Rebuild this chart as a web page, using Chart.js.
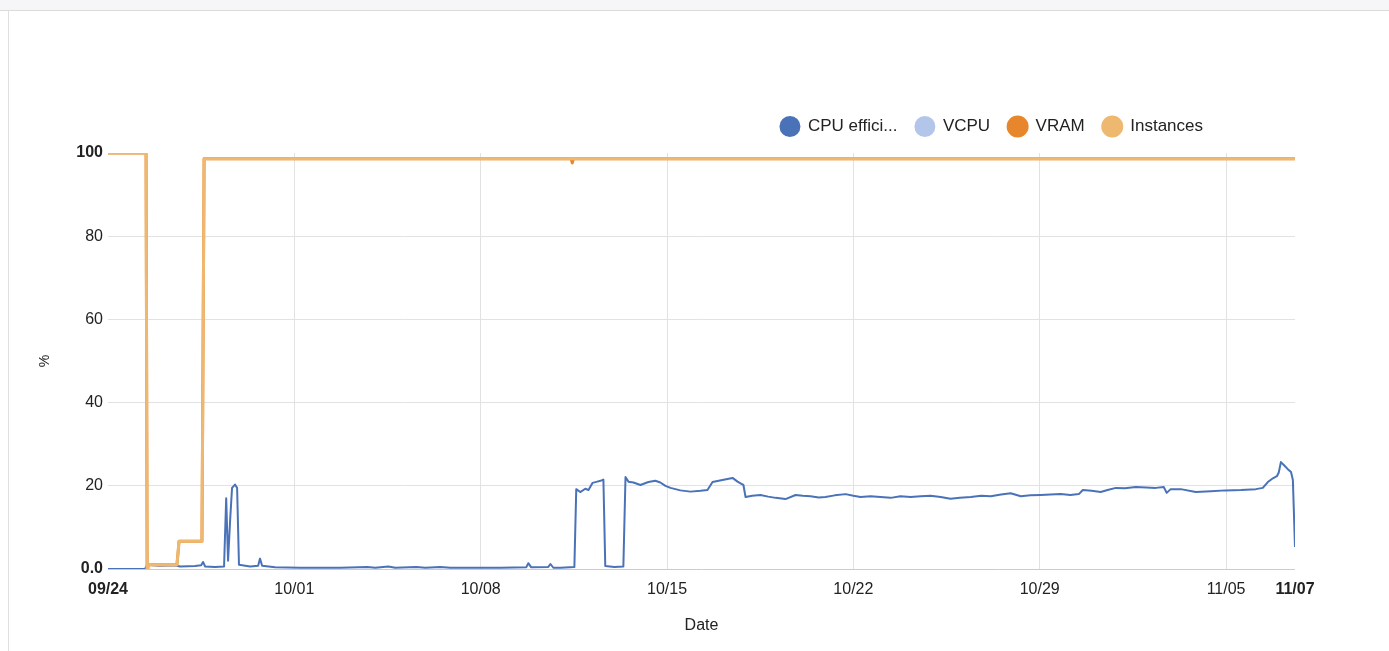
<!DOCTYPE html>
<html>
<head>
<meta charset="utf-8">
<script src="https://cdn.jsdelivr.net/npm/chart.js@4.4.1/dist/chart.umd.min.js"></script>
<style>
  html, body { margin: 0; padding: 0; background: #fff; }
  body { width: 1389px; height: 651px; position: relative; overflow: hidden; font-family: "Liberation Sans", Arial, sans-serif; }
  #topbar { position: absolute; left: 0; top: 0; width: 1389px; height: 10px; background: #f6f6f8; border-bottom: 1px solid #dcdcdc; }
  #panel { position: absolute; left: 8px; top: 11px; width: 1381px; height: 640px; border-left: 1px solid #e0e0e0; }
  #chart { position: absolute; left: 0; top: 0; }
</style>
</head>
<body>
<div id="topbar"></div>
<div id="panel"></div>
<canvas id="chart" width="1389" height="651"></canvas>
<script>
// x values are days since 09/24
const tickDays = [0, 7, 14, 21, 28, 35, 42, 44.59];
const tickLabels = ['09/24', '10/01', '10/08', '10/15', '10/22', '10/29', '11/05', '11/07'];
const yTickLabels = ['0.0', '20', '40', '60', '80', '100'];

const seriesNames = ['CPU effici...', 'VCPU', 'VRAM', 'Instances'];
const seriesColors = ['#4a72b8', '#b3c6ea', '#e8862c', '#efb870'];

// CPU efficiency
const cpuDays = [
  0, 1.39, 1.47, 1.95, 2.52, 2.71, 3.27, 3.50, 3.57, 3.65, 4.02, 4.36, 4.44, 4.51, 4.59, 4.66, 4.77, 4.85, 4.92,
  5.34, 5.64, 5.71, 5.79, 6.28, 7.22, 8.72, 9.74, 10.04, 10.53, 10.79, 11.58, 11.92, 12.48, 12.86, 14.74,
  15.71, 15.79, 15.90, 16.54, 16.62, 16.73, 17.0, 17.52, 17.59, 17.74, 17.93, 18.05, 18.20, 18.38, 18.50, 18.61,
  18.68, 19.02, 19.36, 19.44, 19.55, 19.74, 20.00, 20.30, 20.56, 20.75, 20.94, 21.13, 21.50, 21.88, 22.26,
  22.52, 22.71, 23.08, 23.46, 23.65, 23.76, 23.87, 23.95, 24.20, 24.51, 24.80, 25.08, 25.45, 25.83, 26.10,
  26.39, 26.70, 26.95, 27.30, 27.71, 28.00, 28.27, 28.65, 29.02, 29.40, 29.77, 30.15, 30.53, 30.90, 31.28,
  31.65, 32.00, 32.41, 32.80, 33.16, 33.55, 33.91, 34.29, 34.65, 35.04, 35.40, 35.79, 36.15, 36.47, 36.62,
  36.95, 37.29, 37.55, 37.86, 38.20, 38.61, 39.00, 39.36, 39.66, 39.77, 39.92, 40.30, 40.86, 41.43, 41.98,
  42.56, 43.12, 43.38, 43.57, 43.76, 43.91, 43.98, 44.06, 44.17, 44.32, 44.44, 44.51, 44.59
];
const cpuValues = [
  0, 0, 1.0, 0.8, 0.9, 0.6, 0.7, 0.9, 1.7, 0.6, 0.5, 0.6, 17, 2, 12, 19.5, 20.3, 19.5, 1.0,
  0.6, 0.8, 2.5, 0.8, 0.4, 0.3, 0.3, 0.5, 0.3, 0.6, 0.3, 0.5, 0.3, 0.5, 0.3, 0.3,
  0.4, 1.4, 0.4, 0.5, 1.2, 0.3, 0.3, 0.5, 19.2, 18.5, 19.3, 19.0, 20.7, 21.0, 21.2, 21.5,
  0.7, 0.5, 0.6, 22.1, 21.0, 20.8, 20.2, 20.9, 21.2, 20.8, 20.0, 19.5, 18.9, 18.6, 18.8,
  19.0, 20.9, 21.4, 21.9, 21.0, 20.6, 20.2, 17.3, 17.6, 17.8, 17.4, 17.1, 16.8, 17.8, 17.6,
  17.5, 17.2, 17.3, 17.7, 18.0, 17.6, 17.3, 17.5, 17.3, 17.1, 17.5, 17.3, 17.5, 17.6, 17.3,
  16.9, 17.1, 17.3, 17.6, 17.5, 17.9, 18.2, 17.5, 17.7, 17.8, 17.9, 18.0, 17.8, 18.0, 19.0,
  18.8, 18.5, 19.0, 19.5, 19.4, 19.7, 19.6, 19.5, 19.7, 18.3, 19.2, 19.2, 18.5, 18.7, 18.9,
  19.0, 19.2, 19.5, 20.9, 21.8, 22.3, 23.2, 25.7, 25.0, 24.0, 23.3, 21.4, 5.3
];

// VRAM / Instances / VCPU share one time grid
const resDays = [0, 1.43, 1.47, 1.50, 2.59, 2.67, 3.53, 3.61, 17.40, 17.44, 17.48, 44.59];
const vramValues = [100, 100, 0, 1.0, 1.0, 6.7, 6.7, 98.6, 98.6, 97.6, 98.6, 98.6];
const instanceValues = [100, 100, 0, 1.0, 1.0, 6.7, 6.7, 98.6, 98.6, 98.6, 98.6, 98.6];
const vcpuValues = [100, 100, 0, 1.0, 1.0, 6.7, 6.7, 98.6, 98.6, 98.6, 98.6, 98.6];

function toPoints(xs, ys) {
  return xs.map((x, i) => ({ x: x, y: ys[i] }));
}

const tickFont = (ctx, count) => ({
  family: '"Liberation Sans", Arial, sans-serif',
  size: 16,
  weight: (ctx.index === 0 || ctx.index === count - 1) ? 'bold' : 'normal'
});

// move legend where the reference has it (left of the plot's right edge, a bit higher)
const legendShift = {
  id: 'legendShift',
  afterLayout(chart) {
    const lg = chart.legend;
    lg.right -= 74;
    lg.top -= 8;
    lg.bottom -= 8;
  }
};

const ctx = document.getElementById('chart');

window.chart = new Chart(ctx, {
  type: 'line',
  data: {
    datasets: [
      { label: seriesNames[0], data: toPoints(cpuDays, cpuValues), borderColor: seriesColors[0], backgroundColor: seriesColors[0], borderWidth: 2, order: 3 },
      { label: seriesNames[1], data: toPoints(resDays, vcpuValues), borderColor: seriesColors[1], backgroundColor: seriesColors[1], borderWidth: 2, order: 2 },
      { label: seriesNames[2], data: toPoints(resDays, vramValues), borderColor: seriesColors[2], backgroundColor: seriesColors[2], borderWidth: 3, order: 1 },
      { label: seriesNames[3], data: toPoints(resDays, instanceValues), borderColor: seriesColors[3], backgroundColor: seriesColors[3], borderWidth: 3, order: 0 },
    ],
  },
  options: {
    responsive: false,
    animation: false,
    devicePixelRatio: 1,
    parsing: false,
    elements: { point: { radius: 0 }, line: { tension: 0, borderJoinStyle: 'round' } },
    layout: { padding: { left: 33, right: 94, top: 108, bottom: 12 } },
    plugins: {
      tooltip: { enabled: false },
      legend: {
        position: 'top',
        align: 'end',
        labels: {
          usePointStyle: true,
          pointStyle: 'circle',
          pointStyleWidth: 19,
          boxHeight: 13.4,
          padding: 18,
          color: '#222',
          font: { family: '"Liberation Sans", Arial, sans-serif', size: 17 },
          sort: (a, b) => a.datasetIndex - b.datasetIndex,
        },
      },
    },
    scales: {
      x: {
        type: 'linear',
        min: 0,
        max: 44.59,
        afterBuildTicks: (scale) => {
          scale.ticks = tickDays.map(v => ({ value: v }));
        },
        afterFit: (scale) => { scale.height = 70; },
        border: { display: false },
        grid: {
          drawTicks: false,
          color: (c) => (c.index === 0 || c.index === tickDays.length - 1) ? 'rgba(0,0,0,0)' : '#e2e2e2',
        },
        ticks: {
          autoSkip: false,
          maxRotation: 0,
          padding: 11,
          color: '#222',
          font: (c) => tickFont(c, tickLabels.length),
          callback: (value, index) => tickLabels[index],
        },
        title: {
          display: true,
          text: 'Date',
          color: '#222',
          font: { family: '"Liberation Sans", Arial, sans-serif', size: 16 },
        },
      },
      y: {
        min: 0,
        max: 100,
        afterFit: (scale) => { scale.width = 75; },
        border: { display: false },
        grid: {
          drawTicks: false,
          color: (c) => c.index === 0 ? '#cccccc' : (c.index === yTickLabels.length - 1 ? 'rgba(0,0,0,0)' : '#e2e2e2'),
        },
        ticks: {
          stepSize: 20,
          padding: 5,
          color: '#222',
          font: (c) => tickFont(c, yTickLabels.length),
          callback: (value, index) => yTickLabels[index],
        },
        title: {
          display: true,
          text: '%',
          color: '#222',
          font: { family: '"Liberation Sans", Arial, sans-serif', size: 14 },
        },
      },
    },
  },
  plugins: [legendShift],
});
</script>
</body>
</html>
